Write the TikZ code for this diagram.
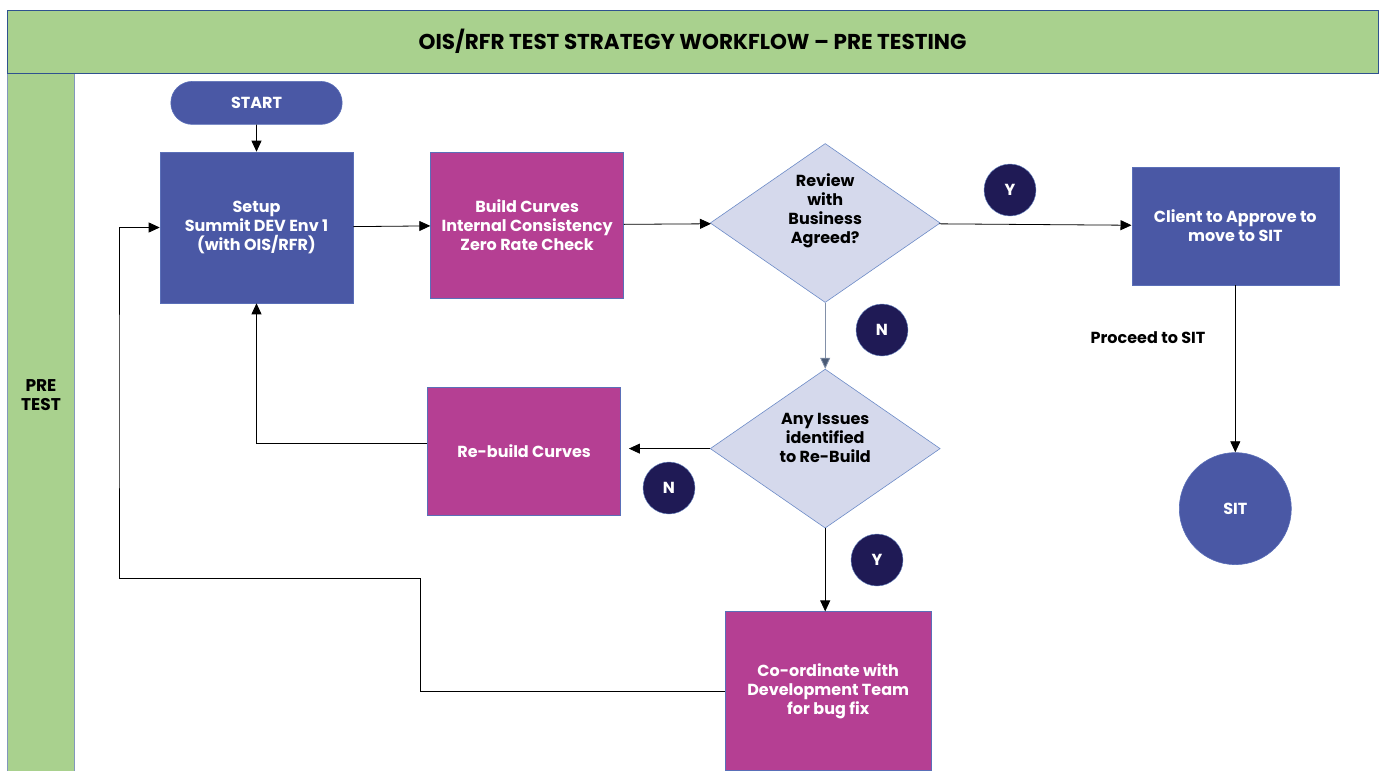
\documentclass[tikz,border=0pt]{standalone}
\usepackage{fontspec}
\setmainfont{Poppins}
\usetikzlibrary{arrows.meta,positioning,shapes.geometric,shapes.misc}

\definecolor{lanegreen}{HTML}{A9D18E}
\definecolor{laneedge}{HTML}{2F528F}
\definecolor{boxblue}{HTML}{4A58A5}
\definecolor{boxpink}{HTML}{B53F93}
\definecolor{boxedge}{HTML}{5A6FB8}
\definecolor{diafill}{HTML}{D5D9EC}
\definecolor{diaedge}{HTML}{6C8BC7}
\definecolor{tagnavy}{HTML}{1F1A55}
\definecolor{nline}{HTML}{8290A8}
\definecolor{nhead}{HTML}{4A5A75}

\begin{document}
\begin{tikzpicture}[x=1pt,y=-1pt,>={Triangle[length=11pt,width=10pt]},
    line width=0.8pt,
    box/.style={rectangle,draw=boxedge,line width=0.6pt,inner sep=2pt,
      align=center,text=white,font=\fontsize{16}{19}\selectfont\bfseries},
    blue box/.style={box,fill=boxblue},
    pink box/.style={box,fill=boxpink},
    decision/.style={diamond,draw=diaedge,fill=diafill,line width=0.6pt,
      inner sep=0pt,minimum width=230pt,minimum height=159pt},
    qtext/.style={align=center,text=black,font=\fontsize{16}{19}\selectfont\bfseries},
    tag/.style={circle,fill=tagnavy,draw=diaedge,line width=0.4pt,text=white,
      minimum size=52pt,inner sep=0pt,font=\fontsize{16}{18}\selectfont\bfseries}]
    \useasboundingbox (0,0) rectangle (1381,771);

    % swimlane frame
    \fill[lanegreen] (7,73) rectangle (74,771);
    \draw[laneedge!60,line width=0.6pt] (7,73) -- (7,771) (74,73) -- (74,771);
    \node[rectangle,fill=lanegreen,draw=laneedge,line width=0.8pt,
      minimum width=1371pt,minimum height=63pt,
      font=\fontsize{21.5}{24}\selectfont\bfseries] (title) at (692.5,41.5)
      {OIS/RFR TEST STRATEGY WORKFLOW – PRE TESTING};
    \node[qtext,font=\fontsize{17}{19.5}\selectfont\bfseries] (lane) at (41,395) {PRE\\TEST};

    % main flow
    \node[blue box,minimum width=193pt,minimum height=151pt] (setup) at (256.5,227.5)
      {Setup\\Summit DEV Env 1\\(with OIS/RFR)};
    \node[rounded rectangle,fill=boxblue,draw=boxedge,line width=0.6pt,text=white,
      minimum width=178pt,minimum height=43pt,
      font=\fontsize{16}{19}\selectfont\bfseries] (start) [above=27pt of setup] {START};
    \node[pink box,minimum width=193pt,minimum height=146pt] (build)
      [right=77pt of setup,yshift=2.5pt] {Build Curves\\Internal Consistency\\Zero Rate Check};
    \node[decision,label={[qtext,yshift=12pt]center:Review\\with\\Business\\Agreed?}]
      (review) [right=86pt of build,yshift=2pt] {};
    \node[blue box,minimum width=207pt,minimum height=118pt] (client)
      [right=191pt of review,yshift=-3pt] {Client to Approve to\\move to SIT};
    \node[circle,fill=boxblue,draw=boxedge,line width=0.6pt,text=white,minimum size=112pt,
      font=\fontsize{16}{19}\selectfont\bfseries] (sit) [below=167pt of client] {SIT};
    \node[decision,label={[qtext,yshift=11pt]center:Any Issues\\identified\\to Re-Build}]
      (issues) [below=66pt of review] {};
    \node[pink box,minimum width=193pt,minimum height=128pt] (rebuild)
      [left=89pt of issues,yshift=-3pt] {Re-build Curves};
    \node[pink box,minimum width=206pt,minimum height=159pt] (fix)
      [below=83pt of issues,xshift=3pt] {Co-ordinate with\\Development Team\\for bug fix};

    % answers
    \node[tag] (yes1) at (1010,190) {Y};
    \node[tag] (no1) at (882,330) {N};
    \node[tag] (no2) at (669,488) {N};
    \node[tag] (yes2) at (877,560) {Y};
    \node[qtext] (proceed) at (1148,338) {Proceed to SIT};

    \coordinate (detour) at (420,578);
    \coordinate (back) at (119,400);

    \draw[->] (start) -- (setup);
    \draw[->] (setup) -- (build);
    \draw[->] (build) -- (review);
    \draw[->] (review) -- (client);
    \draw[->] (client) -- (sit);
    \draw[nline,-{Triangle[length=11pt,width=10pt,fill=nhead]}] (review) -- (issues);
    \draw[->,shorten >=8pt] (issues) -- (rebuild.east |- issues);
    \draw[->] (issues) -- (issues |- fix.north);
    \draw[->] ([yshift=8pt]rebuild.west) -| (setup.south);
    \draw[->] (fix.west) -| (detour) -| (back) |- (setup.west);
\end{tikzpicture}
\end{document}
